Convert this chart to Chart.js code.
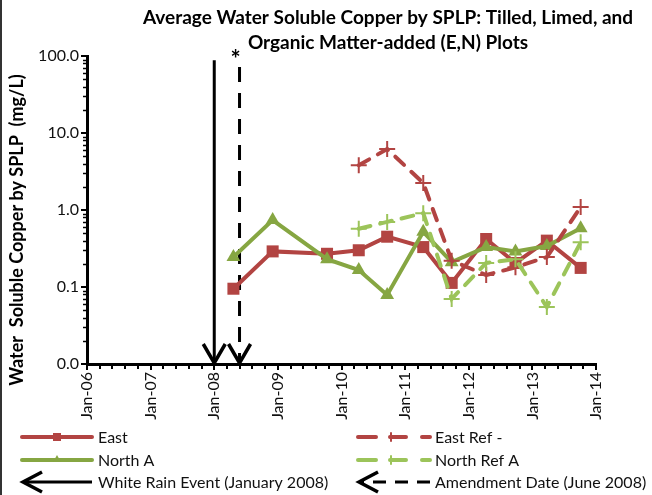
<!DOCTYPE html>
<html lang="en">
<head>
    <meta charset="UTF-8">
    <title>Average Water Soluble Copper by SPLP</title>
    <script src="https://cdn.jsdelivr.net/npm/chart.js"></script>
    <style>
        html, body {
            margin: 0;
            padding: 0;
            background: white;
        }
        .chart-box {
            position: relative;
            width: 652px;
            height: 495px;
        }
    </style>
</head>
<body>
    <div class="chart-box">
        <canvas id="copperChart" width="652" height="495"></canvas>
    </div>
    <script>
        // sampling dates and averages (mg/L)
        const sampleDates = ["2008-04-20", "2008-12-01", "2009-10-10", "2010-04-10", "2010-09-20", "2011-04-15",
                             "2011-09-25", "2012-04-10", "2012-09-25", "2013-03-25", "2013-10-05"];
        const eastValues = [0.095, 0.29, 0.27, 0.30, 0.45, 0.33, 0.113, 0.42, 0.205, 0.40, 0.177];
        const northAValues = [0.245, 0.74, 0.23, 0.166, 0.079, 0.52, 0.21, 0.33, 0.29, 0.34, 0.58];
        const eastRefValues = [null, null, null, 3.8, 6.2, 2.24, 0.22, 0.143, 0.18, 0.245, 1.09];
        const northRefValues = [null, null, null, 0.57, 0.70, 0.91, 0.07, 0.205, 0.23, 0.055, 0.38];

        // event markers (vertical arrows)
        const eventLabels = ["White Rain Event (January 2008)", "Amendment Date (June 2008)"];
        const eventDates = ["2008-01-01", "2008-05-25"];
        const eventTops = [88, 72];

        const yTickValues = [0.01, 0.1, 1, 10, 100];
        const xFirstYear = 2006;
        const xLastYear = 2014;

        const titleLines = ["Average Water Soluble Copper by SPLP: Tilled, Limed, and",
                            "Organic Matter-added (E,N) Plots"];
        const yTitle = "Water  Soluble Copper by SPLP  (mg/L)";

        const RED = "#b24442";
        const GREEN = "#86a642";
        const LIGHT_GREEN = "#9cc45a";
        const FONT = "Lato, 'Open Sans', sans-serif";

        const yearFrac = (s) => {
            const d = new Date(s + "T00:00:00Z");
            const start = Date.UTC(d.getUTCFullYear(), 0, 1);
            return d.getUTCFullYear() + (d - start) / (365 * 864e5);
        };

        const toPoints = (values) => sampleDates.map((s, i) => ({ x: yearFrac(s), y: values[i] }));

        const eventLine = (i) => [
            { x: yearFrac(eventDates[i]), y: eventTops[i] },
            { x: yearFrac(eventDates[i]), y: yTickValues[0] },
        ];

        // minor ticks, arrowheads, titles and legend
        const decorPlugin = {
            id: "decor",
            afterDraw(chart) {
                const ctx = chart.ctx;
                const area = chart.chartArea;
                const xs = chart.scales.x;
                const ys = chart.scales.y;

                ctx.save();
                ctx.strokeStyle = "#000";
                ctx.lineWidth = 1.5;
                for (let d = 0; d < yTickValues.length - 1; d++) {
                    for (let k = 2; k <= 9; k++) {
                        const py = Math.round(ys.getPixelForValue(yTickValues[d] * k)) + 0.5;
                        ctx.beginPath();
                        ctx.moveTo(area.left - 4, py);
                        ctx.lineTo(area.left, py);
                        ctx.stroke();
                    }
                }
                ctx.lineWidth = 2;
                for (let yr = xFirstYear; yr < xLastYear; yr++) {
                    for (let k = 1; k < 5; k++) {
                        const px = Math.round(xs.getPixelForValue(yr + k / 5));
                        ctx.beginPath();
                        ctx.moveTo(px, area.bottom);
                        ctx.lineTo(px, area.bottom + 5);
                        ctx.stroke();
                    }
                }

                // arrowheads at the bottom of the event lines
                ctx.lineWidth = 3.5;
                ctx.lineJoin = "miter";
                chart.data.datasets.forEach((ds, i) => {
                    if (!ds.arrow) return;
                    const pts = chart.getDatasetMeta(i).data;
                    const tip = pts[pts.length - 1];
                    ctx.beginPath();
                    ctx.moveTo(tip.x - 11, tip.y - 20);
                    ctx.lineTo(tip.x, tip.y - 1);
                    ctx.lineTo(tip.x + 11, tip.y - 20);
                    ctx.stroke();
                });

                // asterisk above the amendment line
                ctx.fillStyle = "#000";
                ctx.font = "bold 24px " + FONT;
                ctx.textAlign = "center";
                ctx.textBaseline = "middle";
                ctx.fillText("*", xs.getPixelForValue(yearFrac(eventDates[1])) - 4, 60);

                // chart title
                ctx.font = "bold 19px " + FONT;
                ctx.fillText(titleLines[0], 388, 18);
                ctx.fillText(titleLines[1], 388, 43);

                // y-axis title
                ctx.save();
                ctx.translate(17, 230);
                ctx.rotate(-Math.PI / 2);
                ctx.font = "bold 18px " + FONT;
                ctx.fillText(yTitle, 0, 0);
                ctx.restore();

                // left frame edge
                ctx.fillStyle = "#333";
                ctx.fillRect(0, 0, 2, 495);

                // legend
                const rows = [437, 460, 482];
                const items = [
                    { ds: 0, col: 0, row: 0 }, { ds: 2, col: 1, row: 0 },
                    { ds: 1, col: 0, row: 1 }, { ds: 3, col: 1, row: 1 },
                    { ds: 4, col: 0, row: 2 }, { ds: 5, col: 1, row: 2 },
                ];
                const cols = [{ x0: 22, x1: 92, tx: 98 }, { x0: 358, x1: 430, tx: 435 }];
                items.forEach((it) => {
                    const ds = chart.data.datasets[it.ds];
                    const c = cols[it.col];
                    const y = rows[it.row];
                    ctx.save();
                    ctx.strokeStyle = ds.borderColor;
                    ctx.fillStyle = ds.borderColor;
                    ctx.lineWidth = ds.borderWidth;
                    ctx.lineCap = ds.arrow ? "butt" : "round";
                    if (ds.arrow) {
                        ctx.setLineDash(ds.borderDash.length ? [13, 9] : []);
                        ctx.beginPath();
                        ctx.moveTo(c.x1, y);
                        ctx.lineTo(c.x0 + 2, y);
                        ctx.stroke();
                        ctx.setLineDash([]);
                        ctx.lineWidth = 3.5;
                        ctx.beginPath();
                        ctx.moveTo(c.x0 + 20, y - 10);
                        ctx.lineTo(c.x0 + 1, y);
                        ctx.lineTo(c.x0 + 20, y + 10);
                        ctx.stroke();
                    } else {
                        ctx.setLineDash(ds.borderDash.length ? [18, 14, 16, 16] : []);
                        ctx.beginPath();
                        ctx.moveTo(c.x0, y);
                        ctx.lineTo(c.x1, y);
                        ctx.stroke();
                        ctx.setLineDash([]);
                        const mx = it.col === 0 ? (c.x0 + c.x1) / 2 : c.x0 + 36;
                        ctx.lineWidth = 2;
                        ctx.beginPath();
                        if (ds.pointStyle === "rect") {
                            ctx.fillRect(mx - 4, y - 4, 8, 8);
                        } else if (ds.pointStyle === "triangle") {
                            ctx.moveTo(mx, y - 5);
                            ctx.lineTo(mx + 4, y + 2);
                            ctx.lineTo(mx - 4, y + 2);
                            ctx.closePath();
                            ctx.fill();
                        } else {
                            ctx.moveTo(mx - 3, y - 4);
                            ctx.lineTo(mx - 3, y + 4);
                            ctx.stroke();
                        }
                    }
                    ctx.restore();
                    ctx.fillStyle = "#111";
                    ctx.font = "16px " + FONT;
                    ctx.textAlign = "left";
                    ctx.textBaseline = "middle";
                    ctx.fillText(ds.label, c.tx, y + 1);
                });
                ctx.restore();
            },
        };

        new Chart(document.getElementById("copperChart"), {
            type: "line",
            data: {
                datasets: [
                    {
                        label: "East",
                        data: toPoints(eastValues),
                        borderColor: RED,
                        backgroundColor: RED,
                        borderWidth: 4,
                        borderDash: [],
                        pointStyle: "rect",
                        pointRadius: 8.5,
                        pointBorderWidth: 0,
                        order: 4,
                    },
                    {
                        label: "North A",
                        data: toPoints(northAValues),
                        borderColor: GREEN,
                        backgroundColor: GREEN,
                        borderWidth: 4,
                        borderDash: [],
                        pointStyle: "triangle",
                        pointRadius: 8,
                        pointBorderWidth: 0,
                        order: 3,
                    },
                    {
                        label: "East Ref -",
                        data: toPoints(eastRefValues),
                        borderColor: RED,
                        backgroundColor: RED,
                        borderWidth: 4,
                        borderDash: [12, 10],
                        borderCapStyle: "round",
                        pointStyle: "cross",
                        pointRadius: 8,
                        pointBorderWidth: 2,
                        order: 2,
                    },
                    {
                        label: "North Ref A",
                        data: toPoints(northRefValues),
                        borderColor: LIGHT_GREEN,
                        backgroundColor: LIGHT_GREEN,
                        borderWidth: 4,
                        borderDash: [12, 10],
                        borderCapStyle: "round",
                        pointStyle: "cross",
                        pointRadius: 8,
                        pointBorderWidth: 2,
                        order: 1,
                    },
                    {
                        label: eventLabels[0],
                        data: eventLine(0),
                        borderColor: "#000",
                        borderWidth: 3,
                        borderDash: [],
                        pointRadius: 0,
                        arrow: true,
                        order: 5,
                    },
                    {
                        label: eventLabels[1],
                        data: eventLine(1),
                        borderColor: "#000",
                        borderWidth: 3,
                        borderDash: [15, 11],
                        pointRadius: 0,
                        arrow: true,
                        order: 5,
                    },
                ],
            },
            options: {
                responsive: false,
                animation: false,
                layout: { padding: { left: 0, top: 56, right: 56, bottom: 0 } },
                plugins: {
                    legend: { display: false },
                    tooltip: { enabled: false },
                    title: { display: false },
                },
                scales: {
                    x: {
                        type: "linear",
                        min: xFirstYear,
                        max: xLastYear,
                        afterFit: (scale) => { scale.height = 131; },
                        border: { color: "#000", width: 3 },
                        grid: { drawOnChartArea: false, color: "#000", lineWidth: 2, tickLength: 6 },
                        ticks: {
                            stepSize: 1,
                            autoSkip: false,
                            maxRotation: 90,
                            minRotation: 90,
                            padding: 2,
                            color: "#111",
                            font: { family: FONT, size: 16 },
                            callback: (v) => "Jan-" + String(v).slice(2),
                        },
                    },
                    y: {
                        type: "logarithmic",
                        min: yTickValues[0],
                        max: yTickValues[yTickValues.length - 1],
                        afterFit: (scale) => { scale.width = 87; },
                        afterBuildTicks: (scale) => {
                            scale.ticks = yTickValues.map((v) => ({ value: v, major: true }));
                        },
                        border: { color: "#000", width: 3 },
                        grid: { drawOnChartArea: false, color: "#000", lineWidth: 2, tickLength: 6 },
                        ticks: {
                            padding: 2,
                            color: "#111",
                            font: { family: FONT, size: 16 },
                            callback: (v) => Number(v).toFixed(1),
                        },
                    },
                },
            },
            plugins: [decorPlugin],
        });
    </script>
</body>
</html>
